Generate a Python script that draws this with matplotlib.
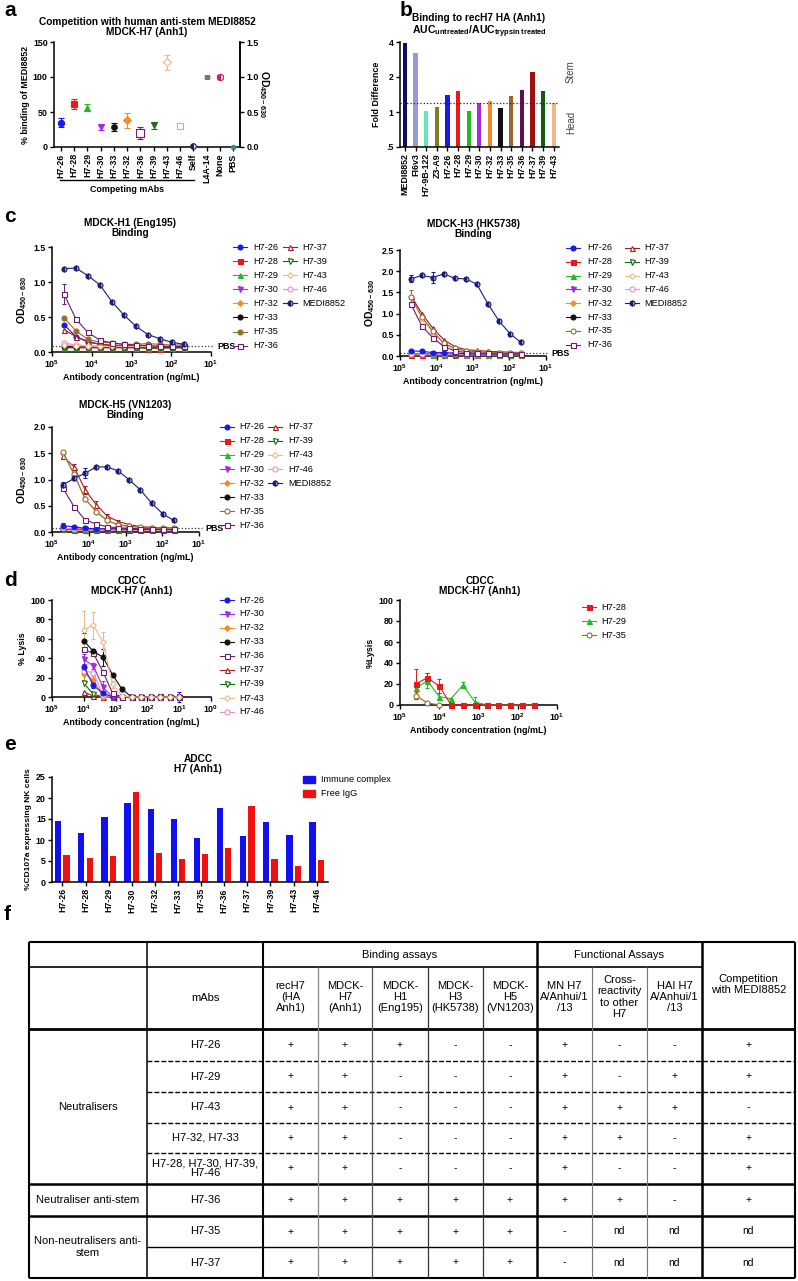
import numpy as np
import matplotlib
matplotlib.use('Agg')
import matplotlib.pyplot as plt
from matplotlib.lines import Line2D
import matplotlib.transforms as mtransforms
from matplotlib.ticker import FixedLocator, NullLocator

plt.rcParams['font.family'] = ['Liberation Sans', 'DejaVu Sans']
plt.rcParams['mathtext.fontset'] = 'custom'
plt.rcParams['mathtext.rm'] = 'Liberation Sans'
plt.rcParams['mathtext.bf'] = 'Liberation Sans:bold'
plt.rcParams['mathtext.it'] = 'Liberation Sans:italic'

W, H = 798, 1281
fig = plt.figure(figsize=(W / 100, H / 100), dpi=100)

# ---------------- DATA ----------------
# panel a
a_labels = ['H7-26', 'H7-28', 'H7-29', 'H7-30', 'H7-33', 'H7-32', 'H7-36', 'H7-39',
            'H7-43', 'H7-46', 'Self', 'L4A-14', 'None', 'PBS']
a_values = [35, 62, 56, 28, 29, 38, 20, 31, 121, 30, 1, 100, 100, 0]
a_err = [6, 7, 5, 4, 6, 11, 9, 5, 11, 2, 1, 1, 3, 0]

# panel b
b_labels = ['MEDI8852', 'FI6v3', 'H7-9B-122', 'Z3-A9', 'H7-26', 'H7-28', 'H7-29', 'H7-30',
            'H7-32', 'H7-33', 'H7-35', 'H7-36', 'H7-37', 'H7-39', 'H7-43']
b_values = [3.95, 3.22, 1.03, 1.10, 1.39, 1.51, 1.03, 1.20, 1.24, 1.09, 1.37, 1.54, 2.20, 1.51, 1.20]
b_threshold = 1.2

# panel c (binding, OD450-630)
c_conc = [50000, 25000, 12500, 6250, 3125, 1563, 781, 391, 195, 98, 49]
h1 = {
    'H7-26': [0.39, 0.22, 0.15, 0.11, 0.09, 0.09, 0.08, 0.08, 0.08, 0.07, 0.07],
    'H7-28': [0.06, 0.06, 0.06, 0.06, 0.06, 0.06, 0.06, 0.05, 0.05, 0.06, 0.06],
    'H7-29': [0.07, 0.07, 0.07, 0.07, 0.07, 0.07, 0.06, 0.06, 0.06, 0.06, 0.06],
    'H7-30': [0.08, 0.07, 0.07, 0.07, 0.07, 0.07, 0.07, 0.07, 0.07, 0.07, 0.07],
    'H7-32': [0.10, 0.09, 0.08, 0.08, 0.08, 0.08, 0.08, 0.07, 0.07, 0.07, 0.07],
    'H7-33': [0.08, 0.07, 0.07, 0.07, 0.07, 0.07, 0.07, 0.07, 0.07, 0.07, 0.07],
    'H7-35': [0.49, 0.30, 0.18, 0.14, 0.13, 0.11, 0.11, 0.12, 0.11, 0.10, 0.10],
    'H7-36': [0.83, 0.47, 0.28, 0.17, 0.13, 0.11, 0.10, 0.09, 0.08, 0.08, 0.08],
    'H7-37': [0.32, 0.22, 0.14, 0.11, 0.10, 0.09, 0.09, 0.08, 0.08, 0.08, 0.08],
    'H7-39': [0.07, 0.07, 0.07, 0.07, 0.07, 0.07, 0.07, 0.07, 0.07, 0.07, 0.07],
    'H7-43': [0.10, 0.09, 0.09, 0.08, 0.08, 0.08, 0.08, 0.08, 0.08, 0.08, 0.08],
    'H7-46': [0.13, 0.10, 0.09, 0.08, 0.08, 0.08, 0.08, 0.08, 0.08, 0.08, 0.08],
    'MEDI8852': [1.19, 1.20, 1.09, 0.96, 0.72, 0.53, 0.37, 0.25, 0.19, 0.14, 0.11],
}
h1_err = {'H7-36': [0.14, 0.02, 0.02, 0.01, 0, 0, 0, 0, 0, 0, 0]}
h1_pbs = 0.08

h3 = {
    'H7-26': [0.12, 0.11, 0.08, 0.08, 0.07, 0.05, 0.05, 0.05, 0.05, 0.05, 0.05],
    'H7-28': [0.03, 0.03, 0.03, 0.03, 0.03, 0.03, 0.03, 0.03, 0.03, 0.03, 0.03],
    'H7-29': [0.04, 0.04, 0.03, 0.03, 0.03, 0.03, 0.03, 0.03, 0.03, 0.03, 0.03],
    'H7-30': [0.04, 0.04, 0.04, 0.03, 0.03, 0.03, 0.03, 0.03, 0.03, 0.03, 0.03],
    'H7-32': [0.05, 0.04, 0.04, 0.04, 0.04, 0.03, 0.03, 0.03, 0.03, 0.03, 0.03],
    'H7-33': [0.04, 0.04, 0.04, 0.04, 0.03, 0.03, 0.03, 0.03, 0.03, 0.03, 0.03],
    'H7-35': [1.40, 0.92, 0.58, 0.30, 0.18, 0.12, 0.10, 0.09, 0.08, 0.07, 0.07],
    'H7-36': [1.22, 0.70, 0.43, 0.22, 0.12, 0.08, 0.07, 0.06, 0.05, 0.05, 0.05],
    'H7-37': [1.42, 1.00, 0.65, 0.38, 0.22, 0.15, 0.13, 0.11, 0.10, 0.09, 0.08],
    'H7-39': [0.04, 0.04, 0.04, 0.03, 0.03, 0.03, 0.03, 0.03, 0.03, 0.03, 0.03],
    'H7-43': [1.38, 0.88, 0.55, 0.28, 0.17, 0.12, 0.10, 0.08, 0.07, 0.07, 0.06],
    'H7-46': [0.05, 0.04, 0.04, 0.04, 0.04, 0.03, 0.03, 0.03, 0.03, 0.03, 0.03],
    'MEDI8852': [1.82, 1.90, 1.85, 1.94, 1.83, 1.82, 1.69, 1.23, 0.83, 0.53, 0.32],
}
h3_err = {'MEDI8852': [0.08, 0.03, 0.12, 0.03, 0.02, 0.02, 0.02, 0.02, 0.02, 0.02, 0.02],
          'H7-35': [0.15, 0.05, 0.04, 0.02, 0, 0, 0, 0, 0, 0, 0]}
h3_pbs = 0.06

h5 = {
    'H7-26': [0.12, 0.10, 0.07, 0.06, 0.06, 0.06, 0.05, 0.05, 0.05, 0.05, 0.05],
    'H7-28': [0.05, 0.04, 0.04, 0.04, 0.04, 0.04, 0.04, 0.04, 0.04, 0.04, 0.04],
    'H7-29': [0.06, 0.05, 0.05, 0.05, 0.05, 0.05, 0.05, 0.05, 0.05, 0.05, 0.05],
    'H7-30': [0.06, 0.05, 0.05, 0.05, 0.05, 0.05, 0.05, 0.05, 0.05, 0.05, 0.05],
    'H7-32': [0.07, 0.06, 0.06, 0.05, 0.05, 0.05, 0.05, 0.05, 0.05, 0.05, 0.05],
    'H7-33': [0.06, 0.05, 0.05, 0.05, 0.05, 0.05, 0.05, 0.05, 0.05, 0.05, 0.05],
    'H7-35': [1.52, 1.10, 0.63, 0.39, 0.22, 0.14, 0.11, 0.09, 0.08, 0.08, 0.08],
    'H7-36': [0.83, 0.48, 0.23, 0.15, 0.10, 0.08, 0.07, 0.06, 0.06, 0.05, 0.05],
    'H7-37': [1.44, 1.24, 0.80, 0.52, 0.30, 0.20, 0.14, 0.10, 0.09, 0.08, 0.08],
    'H7-39': [0.06, 0.05, 0.05, 0.05, 0.05, 0.05, 0.05, 0.05, 0.05, 0.05, 0.05],
    'H7-43': [1.50, 1.08, 0.62, 0.38, 0.21, 0.13, 0.10, 0.08, 0.07, 0.07, 0.07],
    'H7-46': [0.07, 0.06, 0.06, 0.05, 0.05, 0.05, 0.05, 0.05, 0.05, 0.05, 0.05],
    'MEDI8852': [0.90, 1.02, 1.12, 1.24, 1.24, 1.16, 0.99, 0.80, 0.55, 0.35, 0.22],
}
h5_err = {'MEDI8852': [0.05, 0.03, 0.10, 0.02, 0.04, 0.02, 0.02, 0.02, 0.02, 0.02, 0.02],
          'H7-37': [0.03, 0.05, 0.08, 0.07, 0.04, 0.02, 0, 0, 0, 0, 0],
          'H7-26': [0.05, 0, 0, 0, 0, 0, 0, 0, 0, 0, 0]}
h5_pbs = 0.07

# panel d (CDCC, % lysis)
d1_conc = [10000, 5000, 2500, 1250, 625, 313, 156, 78, 39, 20, 10]
d1 = {
    'H7-26': [31, 12, 4, 0, 0, 0, 0, 0, 0, 0, 0],
    'H7-30': [39, 32, 10, 0, 0, 0, 0, 0, 0, 0, 0],
    'H7-32': [24, 18, 0, 0, 0, 0, 0, 0, 0, 0, 0],
    'H7-33': [58, 47, 41, 23, 8, 0, 0, 0, 0, 0, 0],
    'H7-36': [49, 45, 26, 4, 0, 0, 0, 0, 1, 0, 0],
    'H7-37': [5, 1, 0, 0, 0, 0, 0, 0, 0, 0, 0],
    'H7-39': [14, 3, 0, 0, 0, 0, 0, 0, 0, 0, 0],
    'H7-43': [69, 74, 57, 13, 1, 0, 0, 0, 0, 0, 0],
    'H7-46': [27, 25, 2, 0, 0, 0, 0, 0, 0, 0, 0],
}
d1_err = {
    'H7-43': [20, 14, 10, 4, 1, 0, 0, 0, 0, 0, 0],
    'H7-33': [8, 2, 9, 2, 2, 0, 0, 0, 0, 0, 0],
    'H7-30': [5, 3, 7, 0, 0, 0, 0, 0, 0, 0, 0],
    'H7-26': [3, 3, 2, 0, 0, 0, 0, 0, 0, 0, 5],
    'H7-32': [6, 4, 0, 0, 0, 0, 0, 0, 0, 0, 0],
}
d2_conc = [40000, 20000, 10000, 5000, 2500, 1250, 625, 313, 156, 78, 39]
d2 = {
    'H7-28': [20, 26, 18, 0, 0, 0, 0, 0, 0, 0, 0],
    'H7-29': [16, 23, 8, 6, 19, 3, 0, 0, 0, 0, 0],
    'H7-35': [9, 2, 0],
}
d2_err = {
    'H7-28': [14, 4, 7, 0, 0, 0, 0, 0, 0, 0, 0],
    'H7-29': [3, 7, 3, 0, 3, 5, 0, 0, 0, 0, 0],
    'H7-35': [3, 0, 0],
}

# panel e (ADCC)
e_labels = ['H7-26', 'H7-28', 'H7-29', 'H7-30', 'H7-32', 'H7-33', 'H7-35', 'H7-36',
            'H7-37', 'H7-39', 'H7-43', 'H7-46']
e_immune = [14.6, 11.7, 15.5, 18.9, 17.3, 15.0, 10.4, 17.6, 10.9, 14.3, 11.3, 14.3]
e_free = [6.4, 5.7, 6.3, 21.5, 6.8, 5.5, 6.7, 8.1, 18.0, 5.4, 3.8, 5.2]

# panel f (table)
t_cols = ['recH7\n(HA\nAnh1)', 'MDCK-\nH7\n(Anh1)', 'MDCK-\nH1\n(Eng195)', 'MDCK-\nH3\n(HK5738)',
          'MDCK-\nH5\n(VN1203)', 'MN H7\nA/Anhui/1\n/13', 'Cross-\nreactivity\nto other\nH7',
          'HAI H7\nA/Anhui/1\n/13', 'Competition\nwith MEDI8852']
t_rows = ['H7-26', 'H7-29', 'H7-43', 'H7-32, H7-33', 'H7-28, H7-30, H7-39,\nH7-46', 'H7-36', 'H7-35', 'H7-37']
t_cells = [
    ['+', '+', '+', '-', '-', '+', '-', '-', '+'],
    ['+', '+', '-', '-', '-', '+', '-', '+', '+'],
    ['+', '+', '-', '-', '-', '+', '+', '+', '-'],
    ['+', '+', '-', '-', '-', '+', '+', '-', '+'],
    ['+', '+', '-', '-', '-', '+', '-', '-', '+'],
    ['+', '+', '+', '+', '+', '+', '+', '-', '+'],
    ['+', '+', '+', '+', '+', '-', 'nd', 'nd', 'nd'],
    ['+', '+', '+', '+', '+', '-', 'nd', 'nd', 'nd'],
]
t_groups = [('Neutralisers', 0, 5), ('Neutraliser anti-stem', 5, 6), ('Non-neutralisers anti-\nstem', 6, 8)]

# ---------------- STYLE ----------------
STY = {
    'H7-26': ('#1a1ae6', 'o', 'full'),
    'H7-28': ('#e61a1a', 's', 'full'),
    'H7-29': ('#22bb22', '^', 'full'),
    'H7-30': ('#a52ae0', 'v', 'full'),
    'H7-32': ('#f28c28', 'D', 'full'),
    'H7-33': ('#111111', 'o', 'full'),
    'H7-35': ('#9b6b2f', 'o', 'open'),
    'H7-36': ('#6b1d6b', 's', 'open'),
    'H7-37': ('#a31d1d', '^', 'open'),
    'H7-39': ('#0d6b0d', 'v', 'open'),
    'H7-43': ('#e9b98a', 'D', 'open'),
    'H7-46': ('#f28cc8', 'o', 'open'),
    'MEDI8852': ('#1c1c78', 'o', 'half'),
}

TICKFS = 6.4
LBLFS = 6.4
TITFS = 7.3
LEGFS = 6.6


def mk(name, ms=3.6, fill=None, color=None, marker=None):
    c, m, f = STY.get(name, (color, marker, fill))
    if fill is not None:
        f = fill
    if color is not None:
        c = color
    if marker is not None:
        m = marker
    size = ms * 0.8 if m == 'D' else ms
    kw = dict(color=c, marker=m, markersize=size, markeredgecolor=c, markeredgewidth=0.8)
    if f == 'full':
        kw['markerfacecolor'] = c
    elif f == 'open':
        kw['markerfacecolor'] = 'white'
    else:
        kw.update(markerfacecolor=c, fillstyle='left', markerfacecoloralt='#a0a0dc')
    return kw


def ax_px(x0, y0, x1, y1):
    return fig.add_axes([x0 / W, 1 - y1 / H, (x1 - x0) / W, (y1 - y0) / H])


def style_ax(ax, right=False):
    for s in ['top', 'right']:
        ax.spines[s].set_visible(False)
    if right:
        ax.spines['right'].set_visible(True)
    for s in ax.spines.values():
        s.set_linewidth(1.1)
    ax.tick_params(direction='out', length=3, width=1.0, labelsize=TICKFS, pad=1.5)
    for lab in ax.get_xticklabels() + ax.get_yticklabels():
        lab.set_fontweight('bold')


def log_ticks(ax, exps):
    ax.set_xscale('log')
    ax.xaxis.set_major_locator(FixedLocator([10.0 ** e for e in exps]))
    ax.xaxis.set_minor_locator(NullLocator())
    ax.set_xticklabels([r'$\mathbf{10^{%d}}$' % e for e in exps])


def ftext(x, y, s, **kw):
    fig.text(x / W, 1 - y / H, s, **kw)


def legend_px(names, xm, xt, y0, dy, fills=None):
    for i, name in enumerate(names):
        y = 1 - (y0 + i * dy) / H
        kw = mk(name, ms=3.6, fill=(fills or {}).get(name))
        ln = Line2D([(xm - 7) / W, xm / W, (xm + 7) / W], [y, y, y], transform=fig.transFigure,
                    lw=0.8, markevery=[1], **kw)
        fig.add_artist(ln)
        fig.text(xt / W, y, name, fontsize=LEGFS, va='center', ha='left')


def binding_panel(ax, data, errs, pbs, fills=None):
    order = ['H7-28', 'H7-29', 'H7-30', 'H7-32', 'H7-33', 'H7-39', 'H7-46', 'H7-26',
             'H7-37', 'H7-43', 'H7-35', 'H7-36', 'MEDI8852']
    for name in order:
        kw = mk(name, fill=(fills or {}).get(name))
        ax.errorbar(c_conc, data[name], yerr=errs.get(name), lw=0.8, elinewidth=0.7,
                    capsize=1.5, clip_on=False, zorder=3, **kw)
    trans = mtransforms.blended_transform_factory(ax.transAxes, ax.transData)
    ax.plot([0, 1.02], [pbs, pbs], ls=':', color='#333333', lw=0.9, transform=trans, clip_on=False,
            zorder=1)
    ax.text(1.04, pbs, 'PBS', transform=trans, fontsize=6.4, fontweight='bold', va='center', ha='left')
    log_ticks(ax, [5, 4, 3, 2, 1])
    ax.set_xlim(1e5, 1e1)


# ---------------- PANEL a ----------------
A_STY = [('#1a1ae6', 'o', 'full', 4.5), ('#e61a1a', 's', 'full', 4.5), ('#22bb22', '^', 'full', 4.5),
         ('#a52ae0', 'v', 'full', 4.5), ('#111111', 'o', 'full', 4), ('#f28c28', 'D', 'full', 4.5),
         ('#6b1d6b', 's', 'open', 5.5), ('#1d6b1d', 'v', 'full', 4.5), ('#e9b98a', 'D', 'open', 5.5),
         ('#f28cc8', 's', 'open', 5), ('#1c1c78', 'o', 'half', 4), ('#777777', 's', 'full', 3),
         ('#d01c6c', 'o', 'half', 4.5), ('#2a8a9a', 'o', 'full', 3)]
axA = ax_px(54, 42, 240, 147)
for i, (v, e) in enumerate(zip(a_values, a_err)):
    c, m, f, ms = A_STY[i]
    kw = mk(None, ms=ms, fill=f, color=c, marker=m)
    if f == 'half':
        kw['markerfacecoloralt'] = '#ffffff'
    axA.errorbar([i], [v], yerr=[e] if e else None, capsize=2, elinewidth=0.8, clip_on=False,
                 zorder=3, **kw)
axA.set_xlim(-0.53, len(a_labels) - 0.47)
axA.set_ylim(0, 150)
axA.set_yticks([0, 50, 100, 150])
axA.set_xticks(range(len(a_labels)))
axA.set_xticklabels(a_labels, rotation=90, fontsize=6.0)
axA.set_ylabel('% binding of MEDI8852', fontsize=LBLFS, fontweight='bold', labelpad=2)
style_ax(axA, right=True)
axA2 = axA.twinx()
axA2.set_ylim(0, 1.5)
axA2.set_yticks([0.0, 0.5, 1.0, 1.5])
axA2.set_yticklabels(['0.0', '0.5', '1.0', '1.5'])
for s in ['top', 'left', 'bottom']:
    axA2.spines[s].set_visible(False)
axA2.spines['right'].set_linewidth(1.1)
axA2.tick_params(direction='out', length=3, width=1.0, labelsize=TICKFS, pad=1.5)
for lab in axA2.get_yticklabels():
    lab.set_fontweight('bold')
axA2.set_ylabel(r'OD$_{\mathbf{450-630}}$', rotation=270, fontsize=7.5, fontweight='bold', labelpad=9)
transA = mtransforms.blended_transform_factory(axA.transData, axA.transAxes)
axA.plot([-0.05, 10.05], [-0.315, -0.315], color='black', lw=1.0, transform=transA, clip_on=False)
axA.text(5, -0.40, 'Competing mAbs', transform=transA, ha='center', va='center',
         fontsize=LBLFS, fontweight='bold')
ftext(147, 27, 'Competition with human anti-stem MEDI8852\nMDCK-H7 (Anh1)', ha='center', va='center',
      fontsize=TITFS, fontweight='bold', linespacing=1.1)

# ---------------- PANEL b ----------------
b_colors = ['#0c0c6e', '#9a9ad6', '#5ee8b4', '#7f7f22', '#1a1ae6', '#e61a1a', '#22bb22', '#a52ae0',
            '#f28c28', '#111111', '#9b6530', '#5e0f55', '#a01010', '#0d5e0d', '#f0b888']
axB = ax_px(400, 42, 559, 147)
axB.bar(range(len(b_labels)), b_values, width=0.4, color=b_colors, bottom=0, zorder=2)
axB.set_yscale('log', base=2)
axB.set_ylim(0.5, 4)
axB.set_yticks([0.5, 1, 2, 4])
axB.set_yticklabels(['.5', '1', '2', '4'])
axB.yaxis.set_minor_locator(NullLocator())
axB.set_xlim(-0.47, len(b_labels) - 0.5)
axB.set_xticks(range(len(b_labels)))
axB.set_xticklabels(b_labels, rotation=90, fontsize=6.0)
axB.axhline(b_threshold, ls=':', color='#222222', lw=0.9, zorder=3)
axB.set_ylabel('Fold Difference', fontsize=LBLFS, fontweight='bold', labelpad=4)
style_ax(axB)
ftext(571, 72, 'Stem', rotation=90, ha='center', va='center', fontsize=7, color='#444444')
ftext(571, 122, 'Head', rotation=90, ha='center', va='center', fontsize=7, color='#444444')
ftext(479, 18, 'Binding to recH7 HA (Anh1)', ha='center', va='center', fontsize=TITFS, fontweight='bold')
ftext(479, 32, r'AUC$_{\mathbf{untreated}}$/AUC$_{\mathbf{trypsin\ treated}}$', ha='center',
      va='center', fontsize=TITFS + 0.3, fontweight='bold')

# ---------------- PANEL c ----------------
leg1 = ['H7-26', 'H7-28', 'H7-29', 'H7-30', 'H7-32', 'H7-33', 'H7-35', 'H7-36']
leg2 = ['H7-37', 'H7-39', 'H7-43', 'H7-46', 'MEDI8852']

axC1 = ax_px(52, 247, 211, 352)
binding_panel(axC1, h1, h1_err, h1_pbs, fills={'H7-35': 'full'})
axC1.set_ylim(0, 1.5)
axC1.set_yticks([0.0, 0.5, 1.0, 1.5])
axC1.set_ylabel(r'OD$_{\mathbf{450-630}}$', fontsize=7.5, fontweight='bold', labelpad=3)
axC1.set_xlabel('Antibody concentration (ng/mL)', fontsize=LBLFS, fontweight='bold', labelpad=2)
style_ax(axC1)
ftext(130, 228, 'MDCK-H1 (Eng195)\nBinding', ha='center', va='center', fontsize=TITFS,
      fontweight='bold', linespacing=1.05)
legend_px(leg1, 240, 253, 247, 14.1, fills={'H7-35': 'full'})
legend_px(leg2, 290, 302, 247, 14.1)

axC2 = ax_px(400, 250, 546, 356)
binding_panel(axC2, h3, h3_err, h3_pbs)
axC2.set_ylim(0, 2.5)
axC2.set_yticks([0.0, 0.5, 1.0, 1.5, 2.0, 2.5])
axC2.set_ylabel(r'OD$_{\mathbf{450-630}}$', fontsize=7.5, fontweight='bold', labelpad=3)
axC2.set_xlabel('Antibody concentratrion (ng/mL)', fontsize=LBLFS, fontweight='bold', labelpad=2)
style_ax(axC2)
ftext(473, 229, 'MDCK-H3 (HK5738)\nBinding', ha='center', va='center', fontsize=TITFS,
      fontweight='bold', linespacing=1.05)
legend_px(leg1, 573, 587, 248, 13.8)
legend_px(leg2, 632, 644, 248, 13.8)

axC3 = ax_px(52, 427, 199, 532)
binding_panel(axC3, h5, h5_err, h5_pbs)
axC3.set_ylim(0, 2.0)
axC3.set_yticks([0.0, 0.5, 1.0, 1.5, 2.0])
axC3.set_ylabel(r'OD$_{\mathbf{450-630}}$', fontsize=7.5, fontweight='bold', labelpad=3)
axC3.set_xlabel('Antibody concentration (ng/mL)', fontsize=LBLFS, fontweight='bold', labelpad=2)
style_ax(axC3)
ftext(125, 410, 'MDCK-H5 (VN1203)\nBinding', ha='center', va='center', fontsize=TITFS,
      fontweight='bold', linespacing=1.05)
legend_px(leg1, 227, 239, 427, 14.0)
legend_px(leg2, 275, 288, 427, 14.0)

# ---------------- PANEL d ----------------
axD1 = ax_px(52, 600, 211, 697)
d1_order = ['H7-37', 'H7-39', 'H7-32', 'H7-46', 'H7-26', 'H7-30', 'H7-36', 'H7-33', 'H7-43']
for name in d1_order:
    axD1.errorbar(d1_conc, d1[name], yerr=d1_err.get(name), lw=0.8, elinewidth=0.7, capsize=1.5,
                  clip_on=False, zorder=3, **mk(name))
log_ticks(axD1, [5, 4, 3, 2, 1, 0])
axD1.set_xlim(1e5, 1e0)
axD1.set_ylim(0, 100)
axD1.set_yticks([0, 20, 40, 60, 80, 100])
axD1.set_ylabel('% Lysis', fontsize=LBLFS, fontweight='bold', labelpad=3)
axD1.set_xlabel('Antibody concentration (ng/mL)', fontsize=LBLFS, fontweight='bold', labelpad=2)
style_ax(axD1)
ftext(132, 586, 'CDCC\nMDCK-H7 (Anh1)', ha='center', va='center', fontsize=TITFS,
      fontweight='bold', linespacing=1.1)
legend_px(['H7-26', 'H7-30', 'H7-32', 'H7-33', 'H7-36', 'H7-37', 'H7-39', 'H7-43', 'H7-46'],
          227, 239, 600, 14.0)

axD2 = ax_px(400, 600, 557, 705)
for name in ['H7-35', 'H7-29', 'H7-28']:
    x = d2_conc[:len(d2[name])]
    axD2.errorbar(x, d2[name], yerr=d2_err.get(name), lw=0.8, elinewidth=0.7, capsize=1.5,
                  clip_on=False, zorder=3, **mk(name))
log_ticks(axD2, [5, 4, 3, 2, 1])
axD2.set_xlim(1e5, 1e1)
axD2.set_ylim(0, 100)
axD2.set_yticks([0, 20, 40, 60, 80, 100])
axD2.set_ylabel('%Lysis', fontsize=LBLFS, fontweight='bold', labelpad=3)
axD2.set_xlabel('Antibody concentration (ng/mL)', fontsize=LBLFS, fontweight='bold', labelpad=2)
style_ax(axD2)
ftext(480, 586, 'CDCC\nMDCK-H7 (Anh1)', ha='center', va='center', fontsize=TITFS,
      fontweight='bold', linespacing=1.1)
legend_px(['H7-28', 'H7-29', 'H7-35'], 589, 601, 607, 14.0)

# ---------------- PANEL e ----------------
axE = ax_px(52, 777, 328, 882)
xe = np.arange(len(e_labels))
axE.bar(xe - 0.18, e_immune, width=0.27, color='#1010f0', label='Immune complex', zorder=2)
axE.bar(xe + 0.18, e_free, width=0.27, color='#f01010', label='Free IgG', zorder=2)
axE.set_xlim(-0.45, len(e_labels) - 0.51)
axE.set_ylim(0, 25)
axE.set_yticks([0, 5, 10, 15, 20, 25])
axE.set_xticks(xe)
axE.set_xticklabels(e_labels, rotation=90, fontsize=5.8)
axE.set_ylabel('%CD107a expressing NK cells', fontsize=6.0, fontweight='bold', labelpad=3)
style_ax(axE)
ftext(198, 764, 'ADCC\nH7 (Anh1)', ha='center', va='center', fontsize=TITFS,
      fontweight='bold', linespacing=1.1)
for i, (lab, col) in enumerate([('Immune complex', '#1010f0'), ('Free IgG', '#f01010')]):
    y = 779 + i * 14.5
    fig.add_artist(plt.Rectangle((303 / W, 1 - (y + 3.5) / H), 12 / W, 7 / H, color=col,
                                 transform=fig.transFigure))
    ftext(321, y, lab, fontsize=LEGFS, va='center', ha='left')

# ---------------- PANEL f (table) ----------------
axT = fig.add_axes([0, 0, 1, 1], zorder=-5)
axT.set_xlim(0, W)
axT.set_ylim(H, 0)
axT.axis('off')
xs = [29, 147, 263, 318, 372, 428, 483, 537, 592, 647, 702, 795]
y_top, y_h1, y_h2 = 942, 967, 1029
ys = [1029, 1061, 1092, 1123, 1153, 1184, 1216, 1247, 1278]
TFS = 8


def hl(y, x0, x1, lw=1.0, ls='-', color='black'):
    axT.plot([x0, x1], [y, y], color=color, lw=lw, ls=ls, solid_capstyle='butt', dash_capstyle='butt')


def vl(x, y0, y1, lw=1.0, color='black'):
    axT.plot([x, x], [y0, y1], color=color, lw=lw, solid_capstyle='butt')


hl(y_top, 29, 795, 1.5)
hl(y_h1, 29, 702, 1.2)
hl(y_h2, 29, 795, 2.0)
for y in ys[1:5]:
    hl(y, 147, 795, 1.0, ls=(0, (3.5, 1.5)))
hl(ys[5], 29, 795, 1.8)
hl(ys[6], 29, 795, 1.8)
hl(ys[7], 147, 795, 1.0)
hl(ys[8], 29, 795, 1.5)
vl(29, y_top, 1278, 1.5)
vl(795, y_top, 1278, 1.5)
vl(147, y_top, 1278, 1.1)
vl(263, y_top, 1278, 1.5)
vl(537, y_top, 1278, 1.8)
vl(702, y_top, 1278, 1.8)
for x, c, lw in [(318, '#888888', 0.9), (372, '#555555', 0.9), (428, '#333333', 0.9),
                 (483, '#333333', 0.9), (592, '#777777', 0.8), (647, '#777777', 0.8)]:
    vl(x, y_h1, 1278, lw, c)

axT.text((263 + 537) / 2, (y_top + y_h1) / 2, 'Binding assays', ha='center', va='center', fontsize=TFS)
axT.text((537 + 702) / 2, (y_top + y_h1) / 2, 'Functional Assays', ha='center', va='center', fontsize=TFS)
axT.text(205, (y_h1 + y_h2) / 2, 'mAbs', ha='center', va='center', fontsize=TFS)
for j, lab in enumerate(t_cols):
    x0, x1 = xs[2 + j], xs[3 + j]
    ytop = y_top if j == len(t_cols) - 1 else y_h1
    axT.text((x0 + x1) / 2, (ytop + y_h2) / 2 - 1, lab, ha='center', va='center', fontsize=TFS,
             linespacing=1.15)
for i, (rname, cells) in enumerate(zip(t_rows, t_cells)):
    yc = (ys[i] + ys[i + 1]) / 2
    axT.text(205, yc, rname, ha='center', va='center', fontsize=TFS, linespacing=1.0)
    for j, val in enumerate(cells):
        axT.text((xs[2 + j] + xs[3 + j]) / 2, yc, val, ha='center', va='center', fontsize=TFS - 0.5)
for gname, r0, r1 in t_groups:
    axT.text(88, (ys[r0] + ys[r1]) / 2, gname, ha='center', va='center', fontsize=TFS, linespacing=1.15)

# ---------------- panel letters ----------------
for letter, x, y in [('a', 4, 11), ('b', 400, 10), ('c', 4, 216), ('d', 4, 580), ('e', 4, 745), ('f', 4, 915)]:
    ftext(x, y, letter, fontsize=15, fontweight='bold', ha='left', va='center')

fig.savefig('out.png', dpi=100)
